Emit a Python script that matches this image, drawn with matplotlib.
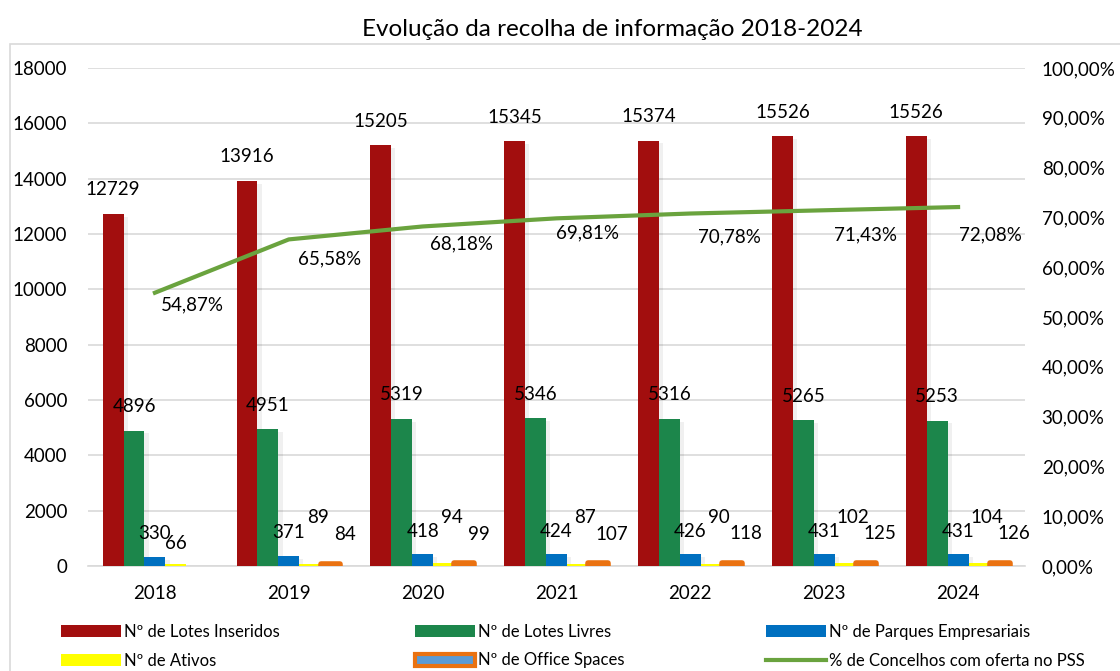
import numpy as np
import matplotlib
matplotlib.use("Agg")
import matplotlib.pyplot as plt
from matplotlib.patches import Rectangle, Patch
from matplotlib.lines import Line2D
import matplotlib.patheffects as pe

plt.rcParams['font.family'] = ['Lato', 'DejaVu Sans']

# data
anos = ['2018', '2019', '2020', '2021', '2022', '2023', '2024']
lotes_inseridos = [12729, 13916, 15205, 15345, 15374, 15526, 15526]
lotes_livres = [4896, 4951, 5319, 5346, 5316, 5265, 5253]
parques = [330, 371, 418, 424, 426, 431, 431]
ativos = [66, 89, 94, 87, 90, 102, 104]
office = [0, 84, 99, 107, 118, 125, 126]
pct_concelhos = [0.5487, 0.6558, 0.6818, 0.6981, 0.7078, 0.7143, 0.7208]
pct_labels = ['54,87%', '65,58%', '68,18%', '69,81%', '70,78%', '71,43%', '72,08%']

c_red = '#A20E0E'
c_green = '#1C864B'
c_blue = '#0070C0'
c_yellow = '#FFFF00'
c_orange = '#EA7211'
c_line = '#6AA33E'

fig = plt.figure(figsize=(11.2, 6.71), dpi=100)
ax = fig.add_axes([88/1120, 1-566/671, (1025-88)/1120, (566-68)/671])
ax2 = ax.twinx()

x = np.arange(len(anos))
w = 0.156
shadow = [pe.SimplePatchShadow(offset=(3, -2), shadow_rgbFace='#000000', alpha=0.06), pe.Normal()]

series = [lotes_inseridos, lotes_livres, parques, ativos]
colors = [c_red, c_green, c_blue, c_yellow]
for i, (vals, col) in enumerate(zip(series, colors)):
    bars = ax.bar(x + (i - 2) * w, vals, w, color=col, zorder=3)
    for b in bars:
        b.set_path_effects(shadow)
# office spaces: blue fill with thick orange outline
ob = ax.bar(x + 2 * w, office, w * 0.95, color='#5B9BD5', edgecolor=c_orange,
            linewidth=4, joinstyle='round', zorder=3)
for b, v in zip(ob, office):
    if v == 0:
        b.set_visible(False)

ax.set_xlim(-0.5, len(anos) - 0.5)
ax.set_ylim(0, 18000)
ax.set_yticks(np.arange(0, 18001, 2000))
ax.set_xticks(x)
ax.set_xticklabels(anos)
ax.grid(axis='y', color='#D9D9D9', linewidth=1.2, zorder=0)
ax.set_axisbelow(True)
for s in ['top', 'left', 'right']:
    ax.spines[s].set_visible(False)
    ax2.spines[s].set_visible(False)
ax.spines['bottom'].set_color('#D9D9D9')
ax.spines['bottom'].set_linewidth(1.2)
ax2.spines['bottom'].set_visible(False)
ax.tick_params(axis='both', length=0, labelsize=13.5, colors='black')
ax.tick_params(axis='y', pad=15)
ax.tick_params(axis='x', pad=14)

ax2.set_ylim(0, 1)
ax2.set_yticks(np.arange(0, 1.01, 0.1))
ax2.set_yticklabels(['%d,00%%' % (v * 10) for v in range(11)])
ax2.tick_params(axis='y', length=0, labelsize=13.5, pad=12)

ax2.plot(x, pct_concelhos, color=c_line, linewidth=3, zorder=4)

# data labels
def labels(vals, xs, dx, dy):
    for xi, v, ddx, ddy in zip(xs, vals, dx, dy):
        if v == 0:
            continue
        ax.annotate(str(v), (xi, v), xytext=(ddx, ddy), textcoords='offset pixels',
                    ha='center', va='center', fontsize=13.5, zorder=6)

n = len(anos)
labels(lotes_inseridos, x - 2 * w, [0] * n, [24] * n)
labels(lotes_livres, x - w, [0] * n, [24] * n)
labels(parques, x, [0] * n, [23] * n)
labels(ativos, x + w, [0] + [8] * (n - 1), [21] + [46] * (n - 1))
labels(office, x + 2 * w, [14] * n, [29] * n)

pct_dx = [37, 41, 39, 31, 39, 41, 32]
pct_dy = [-12, -19, -17, -15, -23, -25, -28]
for xi, v, t, ddx, ddy in zip(x, pct_concelhos, pct_labels, pct_dx, pct_dy):
    ax2.annotate(t, (xi, v), xytext=(ddx, ddy), textcoords='offset pixels',
                 ha='center', va='center', fontsize=13.5, zorder=6)

fig.text(612/1120, 1-29/671, 'Evolução da recolha de informação 2018-2024',
         ha='center', va='center', fontsize=17.5)

# chart border
fig.patches.append(Rectangle((10/1120, -0.1), 1.2, 1.1 - 44/671, transform=fig.transFigure,
                             fill=False, edgecolor='#D9D9D9', linewidth=1.2))

# legend (row-major: three columns placed manually)
h_ins = Patch(facecolor=c_red)
h_liv = Patch(facecolor=c_green)
h_par = Patch(facecolor=c_blue)
h_ati = Patch(facecolor=c_yellow)
h_off = Patch(facecolor='#5B9BD5', edgecolor=c_orange, linewidth=3, joinstyle='round')
h_pct = Line2D([], [], color=c_line, linewidth=3)
cols = [
    ([h_ins, h_ati], ['Nº de Lotes Inseridos', 'Nº de Ativos'], 61),
    ([h_liv, h_off], ['Nº de Lotes Livres', 'Nº de Office Spaces'], 415),
    ([h_par, h_pct], ['Nº de Parques Empresariais', '% de Concelhos com oferta no PSS'], 766),
]
for hs, ls, xpix in cols:
    fig.legend(hs, ls, loc='upper left', bbox_to_anchor=(xpix/1120, 1-624/671),
               frameon=False, fontsize=12, handlelength=3.6, handleheight=0.75,
               handletextpad=0.2, labelspacing=0.75, borderpad=0, borderaxespad=0)

fig.savefig('out.png', dpi=100)
